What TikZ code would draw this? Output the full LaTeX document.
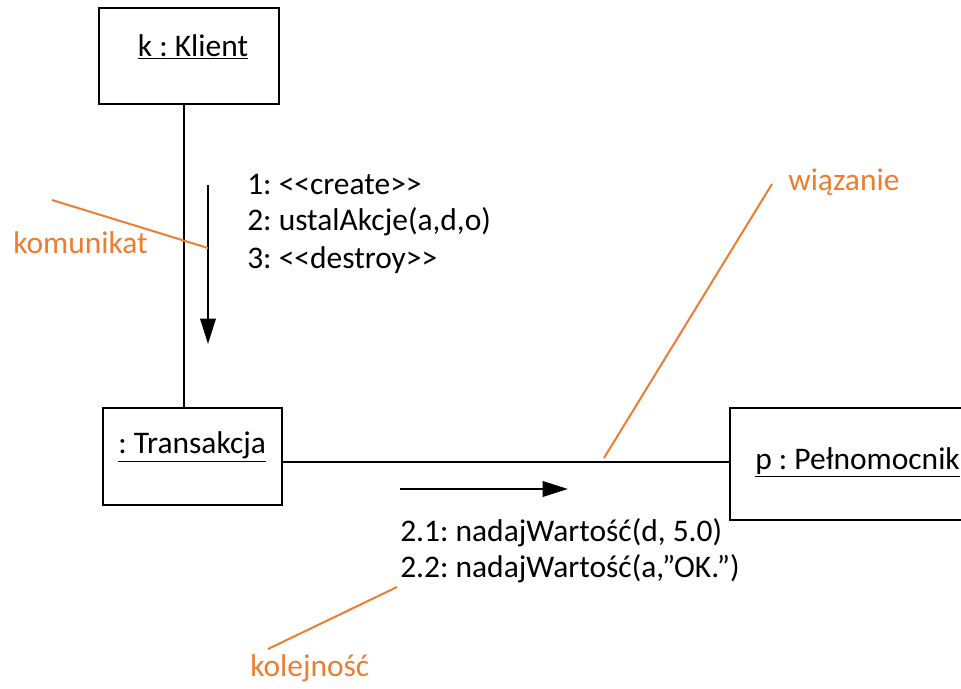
\documentclass[tikz,border=0pt]{standalone}
\usepackage{fontspec}
\setmainfont[Ligatures=TeXOff]{Carlito}
\usetikzlibrary{arrows.meta}
\definecolor{orng}{HTML}{ED7D31}
\begin{document}
\frenchspacing
\begin{tikzpicture}[x=0.75pt,y=-0.75pt,
  objbox/.style={draw=black,line width=1.9pt,minimum width=#1*0.75pt,inner sep=0pt},
  txt/.style={font=\fontsize{23.6}{28}\selectfont,inner sep=0pt,anchor=west},
  otxt/.style={txt,text=orng},
  link/.style={line width=1.9pt},
  msg/.style={line width=1.9pt,-{Triangle[length=19pt,width=11.5pt]}},
  note/.style={draw=orng,line width=1.5pt}]
\useasboundingbox (0,0) rectangle (961,689);
\clip (0,0) rectangle (961,689);
% boxes
\node[objbox=180,minimum height=72pt] (kl) at (189,56) {};
\node[objbox=179,minimum height=72.75pt] (tr) at (192.5,456.5) {};
\node[objbox=250,minimum height=84pt] (pe) at (855,464) {};
\node[txt,anchor=center] (klt) at (193,47) {\underline{k : Klient}};
\node[txt] (trt) at (118,447) {\underline{: Transakcja}};
\node[txt] (pet) at (755,462) {\underline{p : Pełnomocnik}};
% links
\coordinate (v) at (184,0);
\coordinate (h) at (0,462);
\draw[link] (kl.south -| v) -- (tr.north -| v);
\draw[link] (tr.east |- h) -- (pe.west |- h);
% messages
\coordinate (m1s) at (208,185);
\coordinate (m1e) at (208,344);
\draw[msg] (m1s) -- (m1e);
\coordinate (m2s) at (400,489);
\coordinate (m2e) at (568,489);
\draw[msg] (m2s) -- (m2e);
\node[txt] (t1) at (247,184) {1: <<create>>};
\node[txt] (t2) at (247,222) {2: ustalAkcje(a,d,o)};
\node[txt] (t3) at (247,260) {3: <<destroy>>};
\node[txt] (t4) at (400,533) {2.1: nadajWartość(d, 5.0)};
\node[txt] (t5) at (400,569) {2.2: nadajWartość(a,”OK.”)};
% notes
\node[otxt] (n1) at (13,243) {komunikat};
\node[otxt] (n2) at (788,182) {wiązanie};
\node[otxt] (n3) at (250,668) {kolejność};
\coordinate (n1a) at (52,200);
\coordinate (n1b) at (208,248);
\coordinate (n2a) at (772,184);
\coordinate (n2b) at (604,458);
\coordinate (n3a) at (397,587);
\coordinate (n3b) at (268,649);
\draw[note] (n1a) -- (n1b);
\draw[note] (n2a) -- (n2b);
\draw[note] (n3a) -- (n3b);
\end{tikzpicture}
\end{document}
